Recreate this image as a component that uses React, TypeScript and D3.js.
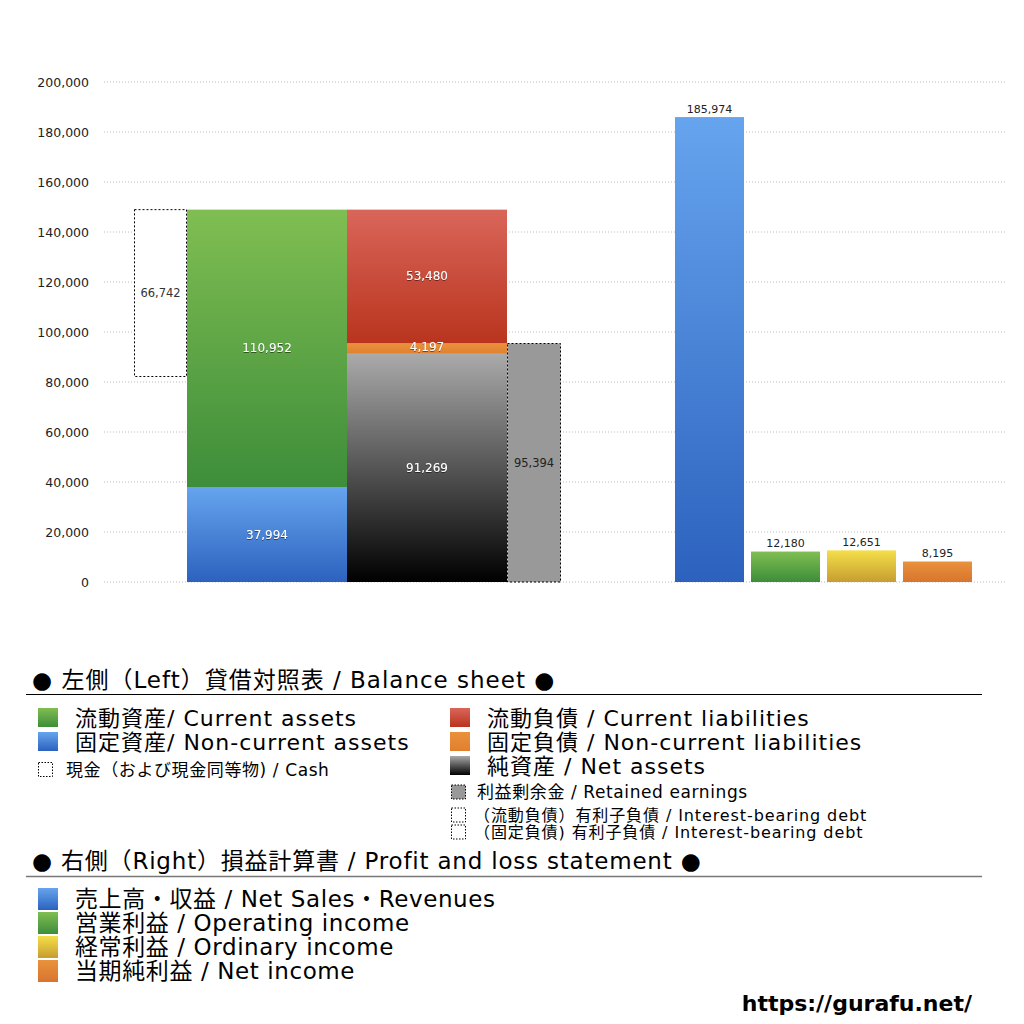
import React from "react";
import * as d3 from "d3";

// ---- data ----
const assetLabels = ["固定資産", "流動資産"];
const assetValues = [37994, 110952];
const liabilityLabels = ["純資産", "固定負債", "流動負債"];
const liabilityValues = [91269, 4197, 53480];
const cashValue = 66742;
const retainedEarnings = 95394;
const plCategories = ["売上高", "営業利益", "経常利益", "当期純利益"];
const plValues = [185974, 12180, 12651, 8195];
const yTicks = [0, 20000, 40000, 60000, 80000, 100000, 120000, 140000, 160000, 180000, 200000];

const bsLegendLeft = [
  { text: "流動資産/ Current assets", grad: "gGreen" },
  { text: "固定資産/ Non-current assets", grad: "gBlue" },
];
const bsLegendRight = [
  { text: "流動負債 /  Current liabilities", grad: "gRed" },
  { text: "固定負債 / Non-current liabilities", grad: "gOrange" },
  { text: "純資産 / Net assets", grad: "gBlack" },
];
const bsLegendSmall = [
  { text: "利益剰余金 / Retained earnings", fill: "#999999" },
  { text: "（流動負債）有利子負債 / Interest-bearing debt", fill: "none" },
  { text: "（固定負債) 有利子負債 / Interest-bearing debt", fill: "none" },
];
const plLegend = [
  { text: "売上高・収益 / Net Sales・Revenues", grad: "gBlue" },
  { text: "営業利益 / Operating income", grad: "gGreen" },
  { text: "経常利益 / Ordinary income", grad: "gYellow" },
  { text: "当期純利益 / Net income", grad: "gOrange2" },
];

const FONT = "'DejaVu Sans', 'Noto Sans CJK JP', sans-serif";
const fmt = d3.format(",");

export default function App() {
  const y = d3.scaleLinear().domain([0, 200000]).range([582, 82]);
  const cols = { cash: [134, 187], assets: [187, 347], liab: [347, 507], ret: [507, 561] };
  const xp = d3.scaleBand<string>().domain(plCategories).range([675, 972]).paddingInner(0.092);

  const assetGrads = ["gBlue", "gGreen"];
  const liabGrads = ["gBlack", "gOrange", "gRed"];
  const plGrads = ["gBlue", "gGreen", "gYellow", "gOrange2"];

  const assetStack: { y0: number; y1: number; v: number; g: string }[] = [];
  let acc = 0;
  assetValues.forEach((v, i) => {
    assetStack.push({ y0: acc, y1: acc + v, v, g: assetGrads[i] });
    acc += v;
  });
  const totalAssets = acc;
  const liabStack: { y0: number; y1: number; v: number; g: string }[] = [];
  acc = 0;
  liabilityValues.forEach((v, i) => {
    liabStack.push({ y0: acc, y1: acc + v, v, g: liabGrads[i] });
    acc += v;
  });

  const whiteLabel = (x: number, yy: number, t: string, key: string) => (
    <text key={key} x={x} y={yy} textAnchor="middle" dominantBaseline="central" fontSize={12}
      fill="#ffffff" filter="url(#shadow)">{t}</text>
  );

  const grad = (id: string, top: string, bottom: string) => (
    <linearGradient id={id} x1="0" y1="0" x2="0" y2="1">
      <stop offset="0" stopColor={top} />
      <stop offset="1" stopColor={bottom} />
    </linearGradient>
  );

  return (
    <svg width={1024} height={1024} style={{ position: "absolute", left: 0, top: 0 }} fontFamily={FONT}>
      <defs>
        {grad("gGreen", "#80be52", "#3d8d3a")}
        {grad("gBlue", "#66a4ee", "#2c62be")}
        {grad("gRed", "#d9665a", "#b9341e")}
        {grad("gOrange", "#ea913c", "#e0802f")}
        {grad("gBlack", "#aaaaaa", "#000000")}
        {grad("gYellow", "#f4df4a", "#c79d30")}
        {grad("gOrange2", "#e9923c", "#d8742e")}
        <filter id="shadow" x="-20%" y="-50%" width="140%" height="200%">
          <feDropShadow dx="0" dy="0.6" stdDeviation="0.6" floodColor="#000" floodOpacity="0.8" />
        </filter>
      </defs>
      <rect x={0} y={0} width={1024} height={1024} fill="#fff" />

      {/* grid */}
      {yTicks.map((t) => (
        <g key={t}>
          <line x1={104} x2={1006} y1={y(t)} y2={y(t)} stroke="#bbbbbb" strokeWidth={1} strokeDasharray="1,2" />
          <text x={89} y={y(t)} textAnchor="end" dominantBaseline="central" fontSize={12.5} fill="#222">{fmt(t)}</text>
        </g>
      ))}

      {/* cash */}
      <rect x={cols.cash[0] + 0.5} y={y(totalAssets)} width={cols.cash[1] - cols.cash[0] - 1}
        height={y(totalAssets - cashValue) - y(totalAssets)} fill="#fff" stroke="#000" strokeWidth={1} strokeDasharray="2,2" />
      <text x={(cols.cash[0] + cols.cash[1]) / 2} y={y(totalAssets - cashValue / 2)} textAnchor="middle"
        dominantBaseline="central" fontSize={11.5} fill="#333">{fmt(cashValue)}</text>

      {/* assets */}
      {assetStack.map((s, i) => (
        <rect key={"a" + i} x={cols.assets[0]} width={cols.assets[1] - cols.assets[0]} y={y(s.y1)}
          height={y(s.y0) - y(s.y1)} fill={`url(#${s.g})`} />
      ))}
      {assetStack.map((s, i) => whiteLabel((cols.assets[0] + cols.assets[1]) / 2, y((s.y0 + s.y1) / 2), fmt(s.v), "al" + i))}

      {/* liabilities */}
      {liabStack.map((s, i) => (
        <rect key={"l" + i} x={cols.liab[0]} width={cols.liab[1] - cols.liab[0]} y={y(s.y1)}
          height={y(s.y0) - y(s.y1)} fill={`url(#${s.g})`} />
      ))}
      {liabStack.map((s, i) => whiteLabel((cols.liab[0] + cols.liab[1]) / 2, y((s.y0 + s.y1) / 2) - (i === 1 ? 2 : 0), fmt(s.v), "ll" + i))}

      {/* retained earnings */}
      <rect x={cols.ret[0] + 0.5} y={y(retainedEarnings)} width={cols.ret[1] - cols.ret[0] - 1}
        height={y(0) - y(retainedEarnings)} fill="#999999" stroke="#000" strokeWidth={1} strokeDasharray="2,2" />
      <text x={(cols.ret[0] + cols.ret[1]) / 2} y={y(retainedEarnings / 2)} textAnchor="middle"
        dominantBaseline="central" fontSize={11.5} fill="#222">{fmt(retainedEarnings)}</text>

      {/* P&L */}
      {plCategories.map((c, i) => (
        <g key={c}>
          <rect x={xp(c)} width={xp.bandwidth()} y={y(plValues[i])} height={y(0) - y(plValues[i])} fill={`url(#${plGrads[i]})`} />
          <text x={(xp(c) as number) + xp.bandwidth() / 2} y={y(plValues[i]) - 8} textAnchor="middle"
            fontSize={11} fill="#222" dominantBaseline="central">{fmt(plValues[i])}</text>
        </g>
      ))}

      {/* Legend: balance sheet */}
      <text x={32} y={680} fontSize={23} letterSpacing={1} fill="#000" dominantBaseline="central">● 左側（Left）貸借対照表 / Balance sheet ●</text>
      <line x1={26} x2={982} y1={694.5} y2={694.5} stroke="#000" strokeWidth={1} />
      {bsLegendLeft.map((d, i) => (
        <g key={d.text}>
          <rect x={38} y={708 + i * 24} width={20} height={19} fill={`url(#${d.grad})`} />
          <text x={75} y={718 + i * 24} fontSize={22} letterSpacing={1} dominantBaseline="central" fill="#000">{d.text}</text>
        </g>
      ))}
      <rect x={38.5} y={762.5} width={14} height={14} fill="none" stroke="#000" strokeDasharray="1.5,1.5" />
      <text x={66} y={770} fontSize={17} letterSpacing={0.6} dominantBaseline="central" fill="#000">現金（および現金同等物) / Cash</text>

      {bsLegendRight.map((d, i) => (
        <g key={d.text}>
          <rect x={450} y={708 + i * 24} width={20} height={19} fill={`url(#${d.grad})`} />
          <text x={487} y={718 + i * 24} fontSize={22} letterSpacing={1} dominantBaseline="central" fill="#000">{d.text}</text>
        </g>
      ))}
      {bsLegendSmall.map((d, i) => {
        const cy = [792, 815, 832][i];
        return (
          <g key={d.text}>
            <rect x={451.5} y={cy - 7} width={14} height={14} fill={d.fill} stroke="#000" strokeDasharray="1.5,1.5" />
            <text x={i === 0 ? 477 : 474} y={cy} fontSize={i === 0 ? 17 : 16} letterSpacing={i === 0 ? 0.6 : 0.9}
              dominantBaseline="central" fill="#000">{d.text}</text>
          </g>
        );
      })}

      {/* Legend: P&L */}
      <text x={32} y={861} fontSize={23} letterSpacing={0.8} fill="#000" dominantBaseline="central">● 右側（Right）損益計算書 / Profit and loss statement ●</text>
      <line x1={26} x2={982} y1={876.5} y2={876.5} stroke="#777" strokeWidth={1.5} />
      {plLegend.map((d, i) => (
        <g key={d.text}>
          <rect x={38} y={888 + i * 24} width={20} height={22} fill={`url(#${d.grad})`} />
          <text x={75} y={899 + i * 24} fontSize={23} letterSpacing={0.6} dominantBaseline="central" fill="#000">{d.text}</text>
        </g>
      ))}

      <text x={972} y={1003} textAnchor="end" fontSize={22} fontWeight="bold" dominantBaseline="central" fill="#000">https://gurafu.net/</text>
    </svg>
  );
}
